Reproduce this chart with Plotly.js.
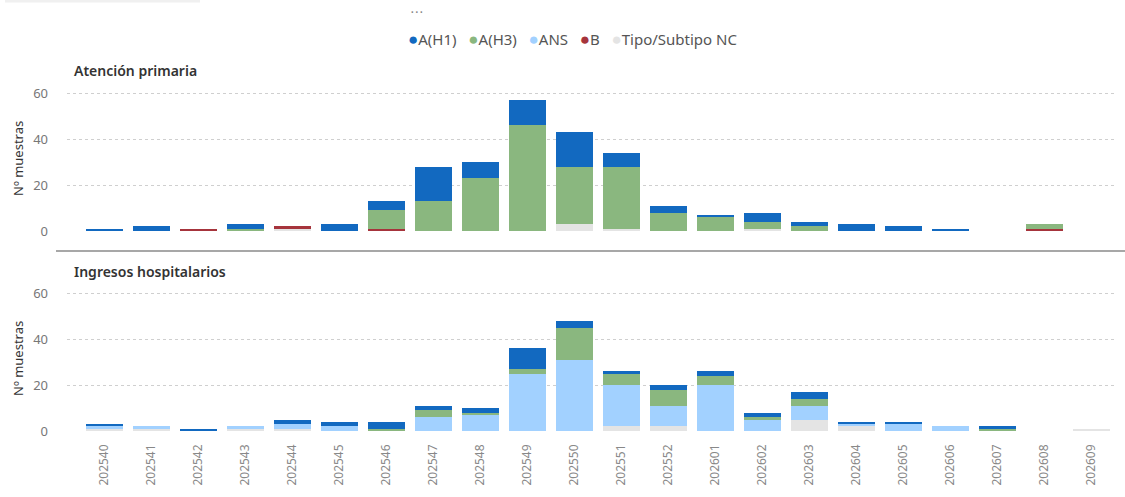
<!DOCTYPE html>
<html>
<head>
<meta charset="utf-8">
<script src="https://cdn.plot.ly/plotly-3.0.1.min.js"></script>
<style>html,body{margin:0;padding:0;background:#fff;}#chart{width:1125px;height:497px;}</style>
</head>
<body>
<div id="chart"></div>
<script>
// ---- data ----
const weeks = ['202540','202541','202542','202543','202544','202545','202546','202547','202548','202549','202550','202551','202552','202601','202602','202603','202604','202605','202606','202607','202608','202609'];

const seriesNames = ['A(H1)','A(H3)','ANS','B','Tipo/Subtipo NC'];
const seriesColors = ['#1269C0','#8AB77F','#A2D1FF','#A6343C','#E4E4E4'];

// Atención primaria
const apH1  = [1,2,0,2,0,3,4,15,7,11,15,6,3,1,4,2,3,2,1,0,0,0];
const apH3  = [0,0,0,1,0,0,8,13,23,46,25,27,8,6,3,2,0,0,0,0,2,0];
const apANS = [0,0,0,0,0,0,0,0,0,0,0,0,0,0,0,0,0,0,0,0,0,0];
const apB   = [0,0,1,0,1,0,1,0,0,0,0,0,0,0,0,0,0,0,0,0,1,0];
const apNC  = [0,0,0,0,1,0,0,0,0,0,3,1,0,0,1,0,0,0,0,0,0,0];

// Ingresos hospitalarios
const ihH1  = [1,0,1,0,2,2,3,2,2,9,3,1,2,2,2,3,1,1,0,1,0,0];
const ihH3  = [0,0,0,0,0,0,1,3,1,2,14,5,7,4,1,3,0,0,0,1,0,0];
const ihANS = [1,1,0,1,2,2,0,6,7,25,31,18,9,20,5,6,1,3,2,0,0,0];
const ihB   = [0,0,0,0,0,0,0,0,0,0,0,0,0,0,0,0,0,0,0,0,0,0];
const ihNC  = [1,1,0,1,1,0,0,0,0,0,0,2,2,0,0,5,2,0,0,0,0,1];

const panelTitles = ['Atención primaria','Ingresos hospitalarios'];
const yTicks = [0,20,40,60];
const yTitle = 'Nº muestras';

// ---- build ----
const FONT = '"Noto Sans", "Open Sans", sans-serif';
const apData = [apH1, apH3, apANS, apB, apNC];
const ihData = [ihH1, ihH3, ihANS, ihB, ihNC];
const traces = [];
// stacking order bottom->top: NC, B, ANS, A(H3), A(H1)
[4,3,2,1,0].forEach(i => {
  traces.push({type:'bar', x: weeks, y: apData[i], name: seriesNames[i], xaxis:'x', yaxis:'y',
    marker:{color: seriesColors[i], line:{width:0}}, showlegend:false, hoverinfo:'x+y+name'});
});
[4,3,2,1,0].forEach(i => {
  traces.push({type:'bar', x: weeks, y: ihData[i], name: seriesNames[i], xaxis:'x2', yaxis:'y2',
    marker:{color: seriesColors[i], line:{width:0}}, showlegend:false, hoverinfo:'x+y+name'});
});

const W = 1125, H = 497;
const py = p => 1 - p / H;
const xRange = [-0.8, 21.52];
const yRange = [0, 62.3];

const yAxisCommon = {
  range: yRange, tickvals: yTicks, showgrid: true, gridcolor: '#cfcfcf', griddash: 'dot', gridwidth: 1,
  zeroline: false, showline: false, ticks: '', ticklabelstandoff: 18,
  tickfont: {family: FONT, size: 13, color: '#777'}, fixedrange: true
};

const legendText = seriesNames.map((n, i) =>
  '<span style="color:' + seriesColors[i] + ';font-size:17px">●</span>' + n).join('&nbsp;&nbsp;&nbsp;');

const layout = {
  width: W, height: H,
  margin: {l:0, r:0, t:0, b:0},
  paper_bgcolor: '#fff', plot_bgcolor: '#fff',
  barmode: 'stack', bargap: 0.21,
  showlegend: false,
  font: {family: FONT, color: '#555'},
  xaxis: {domain: [67/W, 1116/W], range: xRange, type: 'category', anchor: 'y',
    showticklabels: false, showgrid: false, zeroline: false, showline: false, ticks: '', fixedrange: true},
  yaxis: Object.assign({}, yAxisCommon, {domain: [py(231), py(88)], anchor: 'x'}),
  xaxis2: {domain: [67/W, 1116/W], range: xRange, type: 'category', anchor: 'y2',
    tickangle: -90, ticks: '', ticklabelstandoff: 10, showgrid: false, zeroline: false, showline: false,
    tickfont: {family: FONT, size: 12, color: '#888'}, fixedrange: true},
  yaxis2: Object.assign({}, yAxisCommon, {domain: [py(431), py(288)], anchor: 'x2'}),
  shapes: [
    {type:'line', xref:'paper', yref:'paper', x0: 56/W, x1: 1, y0: py(251), y1: py(251),
      line:{color:'#8a8a8a', width:1.5}},
    {type:'line', xref:'paper', yref:'paper', x0: 5/W, x1: 200/W, y0: py(1), y1: py(1),
      line:{color:'#f0f0f0', width:3}}
  ],
  annotations: [
    {xref:'paper', yref:'paper', x: 72/W, y: py(71), xanchor:'left', yanchor:'middle', showarrow:false,
      text: panelTitles[0], font:{family: FONT, size: 14, color:'#333', weight: 600}},
    {xref:'paper', yref:'paper', x: 72/W, y: py(271), xanchor:'left', yanchor:'middle', showarrow:false,
      text: panelTitles[1], font:{family: FONT, size: 14, color:'#333', weight: 600}},
    {xref:'paper', yref:'paper', x: 18/W, y: py(159), xanchor:'center', yanchor:'middle', showarrow:false,
      textangle: -90, text: yTitle, font:{family: FONT, size: 13, color:'#333'}},
    {xref:'paper', yref:'paper', x: 18/W, y: py(359), xanchor:'center', yanchor:'middle', showarrow:false,
      textangle: -90, text: yTitle, font:{family: FONT, size: 13, color:'#333'}},
    {xref:'paper', yref:'paper', x: 572/W, y: py(38), xanchor:'center', yanchor:'middle', showarrow:false,
      text: legendText, font:{family: FONT, size: 15, color:'#555'}},
    {xref:'paper', yref:'paper', x: 417/W, y: py(13), xanchor:'center', yanchor:'middle', showarrow:false,
      text: '• • •', font:{family: FONT, size: 7, color:'#888'}}
  ]
};

Plotly.newPlot('chart', traces, layout, {displayModeBar: false, responsive: false});
</script>
</body>
</html>
